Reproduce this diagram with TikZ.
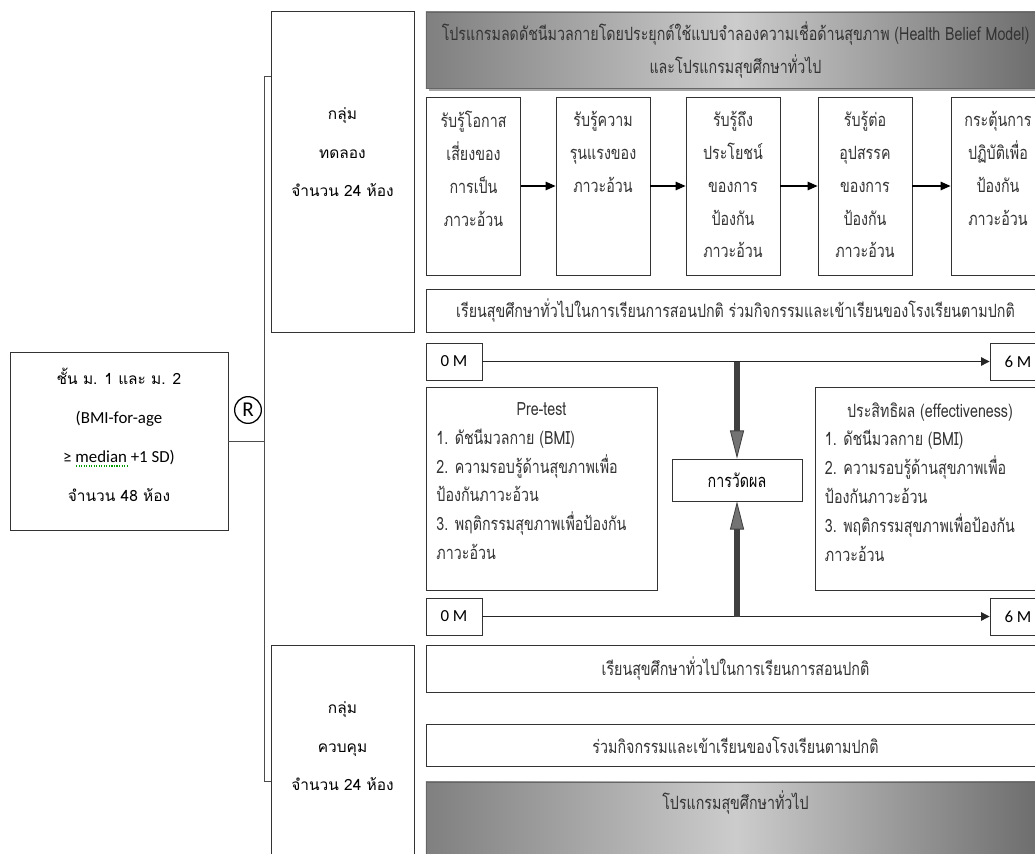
\documentclass[tikz,border=0pt]{standalone}
\usepackage{fontspec}
\setmainfont{Carlito}
\newfontfamily\thaifont[Script=Thai]{Loma}
\newfontfamily\thinfont[Script=Thai,FakeStretch=0.78]{Loma}
\usetikzlibrary{arrows.meta,shadows}
\newcommand\flowfont{\thinfont\fontsize{13}{23.4}\selectfont}
\newcommand\listfont{\thinfont\fontsize{13}{20.5}\selectfont}
\newcommand\grpfont{\thaifont\fontsize{11}{27.6}\selectfont}
\newcommand\latin{\fontspec{Carlito}\fontsize{12}{27.6}\selectfont}
\newcommand\topcell[4]{\parbox[c][#2][t]{#1}{\centering\vspace*{#3}#4\par}}
\tikzset{
  box/.style={draw=black!80, line width=0.6pt, rectangle, inner sep=0pt},
  flowbox/.style={box, minimum width=2.35cm, minimum height=4.45cm, font=\flowfont, text=black!80},
  widebox/.style={box, minimum width=15.475cm, font=\flowfont, text=black!80},
  banner/.style={widebox, draw=black!60, left color=black!50, right color=black!58, middle color=black!20,
    drop shadow={shadow xshift=2pt, shadow yshift=-2pt, opacity=0.7}},
  monthbox/.style={box, minimum width=1.4cm, minimum height=0.925cm, font=\fontsize{12}{14}\selectfont},
  grpbox/.style={box, minimum width=3.575cm, font=\grpfont},
  listbox/.style={box, minimum height=5.075cm, font=\listfont, text=black!80},
  link/.style={line width=0.6pt, black!70},
  flowarrow/.style={line width=0.8pt, -{Triangle[length=7pt,width=6pt]}},
  timearrow/.style={line width=0.7pt, black!85, -{Triangle[length=6pt,width=6pt]}},
  measarrow/.style={line width=4.5pt, draw=black!75, -{Triangle[length=20pt,width=10pt,line width=0.6pt,fill=black!55]}}
}
\begin{document}
\begin{tikzpicture}[x=0.025cm, y=-0.025cm]
  \useasboundingbox (0,0) rectangle (1035,854);
  \clip (0,0) rectangle (1035,854);

  \node[grpbox, minimum width=5.45cm, minimum height=4.43cm] (sample) at (119,441.5)
    {\topcell{5.3cm}{4.43cm}{11pt}{ชั้น ม. 1 และ ม. 2\\{\latin (BMI-for-age}\\{\latin ≥ median +1 SD)}\\จำนวน 48 ห้อง}};
  \draw[green!60!black, densely dotted, line width=0.8pt] (76,466) -- (127,466);
  \node[circle, draw, line width=0.9pt, inner sep=0pt, minimum size=19pt, font=\fontsize{15}{15}\selectfont] (r) at (248,410) {R};

  \node[grpbox, minimum height=8.025cm] (exp) at (342.5,171.5)
    {\topcell{3.4cm}{8.025cm}{68.5pt}{กลุ่ม\\ทดลอง\\จำนวน 24 ห้อง}};
  \node[grpbox, minimum height=5.625cm] (ctl) at (342.5,757.5)
    {\topcell{3.4cm}{5.625cm}{40pt}{กลุ่ม\\ควบคุม\\จำนวน 24 ห้อง}};
  \coordinate (t) at (264,76);
  \coordinate (u) at (264,781);
  \draw[link] (sample.east) -- (sample.east -| t);
  \draw[link] (t -| exp.west) -- (t) -- (u) -- (u -| ctl.west);

  \node[banner, minimum height=1.9cm, align=center] (hbm) at (735.5,50)
    {โปรแกรมลดดัชนีมวลกายโดยประยุกต์ใช้แบบจำลองความเชื่อด้านสุขภาพ (Health Belief Model)\\และโปรแกรมสุขศึกษาทั่วไป};

  \node[flowbox] (a1) at (473.5,186) {\topcell{2.3cm}{4.45cm}{10pt}{รับรู้โอกาส\\เสี่ยงของ\\การเป็น\\ภาวะอ้วน}};
  \node[flowbox] (a2) at (603,186) {\topcell{2.3cm}{4.45cm}{10pt}{รับรู้ความ\\รุนแรงของ\\ภาวะอ้วน}};
  \node[flowbox] (a3) at (733,186) {\topcell{2.3cm}{4.45cm}{10pt}{รับรู้ถึง\\ประโยชน์\\ของการ\\ป้องกัน\\ภาวะอ้วน}};
  \node[flowbox] (a4) at (865,186) {\topcell{2.3cm}{4.45cm}{10pt}{รับรู้ต่อ\\อุปสรรค\\ของการ\\ป้องกัน\\ภาวะอ้วน}};
  \node[flowbox] (a5) at (998,186) {\topcell{2.3cm}{4.45cm}{10pt}{กระตุ้นการ\\ปฏิบัติเพื่อ\\ป้องกัน\\ภาวะอ้วน}};
  \foreach \i [evaluate=\i as \j using int(\i+1)] in {1,...,4}
    \draw[flowarrow] (a\i) -- (a\j);

  \node[widebox, minimum height=1.075cm] (usual) at (735.5,310.5)
    {เรียนสุขศึกษาทั่วไปในการเรียนการสอนปกติ ร่วมกิจกรรมและเข้าเรียนของโรงเรียนตามปกติ};

  \node[monthbox] (m0a) at (454,361.5) {0 M};
  \node[monthbox] (m6a) at (1018,361.5) {6 M};
  \node[monthbox] (m0b) at (454,616.5) {0 M};
  \node[monthbox] (m6b) at (1018,616.5) {6 M};
  \draw[timearrow] (m0a) -- (m6a);
  \draw[timearrow] (m0b) -- (m6b);

  \node[listbox, minimum width=5.775cm] (pre) at (541.5,488.5)
    {\parbox[c][5.075cm][t]{5.25cm}{\vspace*{11pt}\centering Pre-test\par\raggedright
      1. ดัชนีมวลกาย (BMI)\\2. ความรอบรู้ด้านสุขภาพเพื่อ\\ป้องกันภาวะอ้วน\\3. พฤติกรรมสุขภาพเพื่อป้องกัน\\ภาวะอ้วน\par}};
  \node[listbox, minimum width=5.75cm] (eff) at (930,488.5)
    {\parbox[c][5.075cm][t]{5.25cm}{\vspace*{11pt}\centering ประสิทธิผล (effectiveness)\par\raggedright
      1. ดัชนีมวลกาย (BMI)\\2. ความรอบรู้ด้านสุขภาพเพื่อ\\ป้องกันภาวะอ้วน\\3. พฤติกรรมสุขภาพเพื่อป้องกัน\\ภาวะอ้วน\par}};
  \node[box, minimum width=3.25cm, minimum height=1.05cm, font=\flowfont] (meas) at (737,480) {การวัดผล};
  \draw[measarrow] (meas.north |- m0a) -- (meas.north);
  \draw[measarrow] (meas.south |- m0b) -- (meas.south);

  \node[widebox, minimum height=1.175cm] (c1) at (735.5,668.5) {เรียนสุขศึกษาทั่วไปในการเรียนการสอนปกติ};
  \node[widebox, minimum height=1.05cm] (c2) at (735.5,745) {ร่วมกิจกรรมและเข้าเรียนของโรงเรียนตามปกติ};
  \node[banner, minimum height=2.2cm] (gen) at (735.5,826) {\topcell{15cm}{2.2cm}{6.5pt}{โปรแกรมสุขศึกษาทั่วไป}};
\end{tikzpicture}
\end{document}
